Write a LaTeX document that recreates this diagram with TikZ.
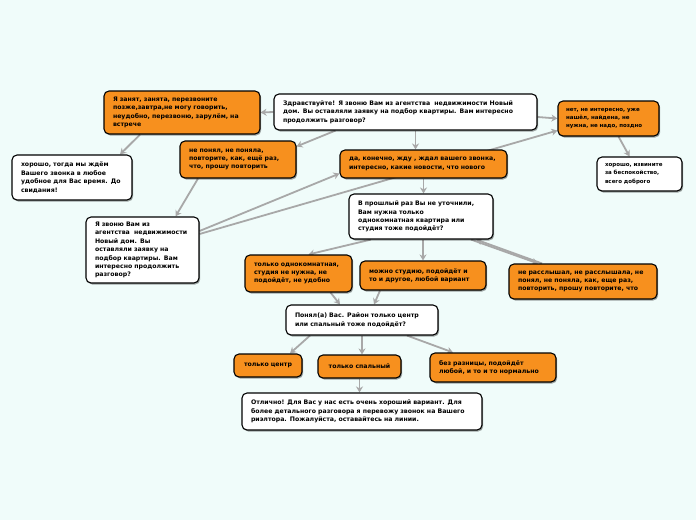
\documentclass[tikz,border=0pt]{standalone}
\usepackage{fontspec}
\setmainfont{DejaVu Sans}
\usetikzlibrary{arrows.meta,shadows,backgrounds}
\definecolor{bgcol}{RGB}{240,252,250}
\definecolor{orng}{HTML}{F7901E}
\definecolor{arrcol}{HTML}{A8A8A8}
\tikzset{
  box/.style={draw=black, line width=1.1pt, rounded corners=5pt, align=left,
    font=\bfseries\fontsize{6.2}{8.4}\selectfont, inner xsep=9pt, inner ysep=0pt,
    drop shadow={shadow xshift=1.2pt, shadow yshift=-1.5pt, opacity=0.35, fill=black}},
  small/.style={font=\bfseries\fontsize{5.5}{8.2}\selectfont, inner xsep=8pt},
  wbox/.style={box, fill=white},
  obox/.style={box, fill=orng},
  arr/.style={draw=arrcol, line width=1.8pt, -{Stealth[length=6pt,width=7pt]}}
}
\begin{document}
\begin{tikzpicture}[x=1pt,y=-1pt]
\useasboundingbox (0,0) rectangle (696,520);

\node[wbox, text width=245, minimum height=36] (main) at (405.5,112)
  {Здравствуйте! Я звоню Вам из агентства~ недвижимости Новый\\дом. Вы оставляли заявку на подбор квартиры. Вам интересно\\продолжить разговор?};
\node[obox, text width=138, minimum height=43] (busy) at (182,112.5)
  {Я занят, занята, перезвоните\\позже,завтра,не могу говорить,\\неудобно, перезвоню, зарулём, на\\встрече};
\node[obox, small, text width=85, minimum height=35] (net) at (608.5,118.5)
  {нет, не интересно, уже\\нашёл, найдена, не\\нужна, не надо, поздно};
\node[wbox, small, text width=69, minimum height=34] (izv) at (639.5,174)
  {хорошо, извините\\за беспокойство,\\всего доброго};
\node[wbox, text width=102, minimum height=45] (tog) at (72,177.5)
  {хорошо, тогда мы ждём\\Вашего звонка в любое\\удобное для Вас время. До\\свидания!};
\node[obox, text width=98, minimum height=37] (nep) at (238,159.5)
  {не понял, не поняла,\\повторите, как, ещё раз,\\что, прошу повторить};
\node[obox, text width=149, minimum height=28] (da) at (423.5,164)
  {да, конечно, жду , ждал вашего звонка,\\интересно, какие новости, что нового};
\node[wbox, text width=95, minimum height=66] (zvon) at (142.5,250)
  {Я звоню Вам из\\агентства~ недвижимости\\Новый дом. Вы\\оставляли заявку на\\подбор квартиры. Вам\\интересно продолжить\\разговор?};
\node[wbox, text width=126, minimum height=45] (pro) at (421,216.5)
  {В прошлый раз Вы не уточнили,\\Вам нужна только\\однокомнатная квартира или\\студия тоже подойдёт?};
\node[obox, text width=89, minimum height=37] (odn) at (298.5,273.5)
  {только однокомнатная,\\студия не нужна, не\\подойдёт, не удобно};
\node[obox, text width=108, minimum height=29] (mozh) at (423,275.5)
  {можно студию, подойдёт и\\то и другое, любой вариант};
\node[obox, text width=130, minimum height=35] (ras) at (583,281.5)
  {не расслышал, не расслышала, не\\понял, не поняла, как, еще раз,\\повторить, прошу повторите, что};
\node[wbox, text width=134, minimum height=30] (pon) at (362,320)
  {Понял(а) Вас. Район только центр\\или спальный тоже подойдёт?};
\node[obox, text width=50, minimum height=23, align=center] (cent) at (268,365.5)
  {только центр};
\node[obox, text width=65, minimum height=23, align=center] (spal) at (359.5,366.5)
  {только спальный};
\node[obox, text width=108, minimum height=29] (bez) at (493,367.5)
  {без разницы, подойдёт\\любой, и то и то нормально};
\node[wbox, text width=222, minimum height=37] (otl) at (362,411.5)
  {Отлично! Для Вас у нас есть очень хороший вариант. Для\\более детального разговора я перевожу звонок на Вашего\\риэлтора. Пожалуйста, оставайтесь на линии.};

\begin{scope}[on background layer]
\fill[bgcol] (0,0) rectangle (696,520);
\draw[arr] (main.west) -- (busy.east);
\draw[arr] ([yshift=-5pt]main.east) -- (net.west);
\draw[arr] ([yshift=16pt]zvon.east) -- ([yshift=-12pt]net.west);
\draw[arr] ([yshift=19pt]zvon.east) -- ([yshift=5pt]da.south west);
\draw[arr] ([xshift=-70pt]main.south) -- ([yshift=-6pt]nep.north east);
\draw[arr] ([xshift=10pt]main.south) -- ([xshift=10pt]main.south |- da.north);
\draw[arr] ([xshift=-42pt]busy.south) -- ([xshift=48pt]tog.north);
\draw[arr] ([xshift=10pt]net.south) -- ([xshift=-10pt]izv.north);
\draw[arr] ([xshift=-40pt]nep.south) -- ([xshift=33pt]zvon.north);
\draw[arr] (da.south) -- (da.south |- pro.north);
\draw[arr] ([xshift=-50pt]pro.south) -- ([xshift=10pt]odn.north);
\draw[arr] ([xshift=2pt]pro.south) -- ([xshift=2pt]pro.south |- mozh.north);
\draw[arr] ([xshift=50pt]pro.south) -- ([xshift=-45pt]ras.north);
\draw[arr] ([xshift=-41pt]ras.north) -- ([xshift=55pt]pro.south);
\draw[arr] ([xshift=32pt]odn.south) -- ([xshift=-22pt]pon.north);
\draw[arr] ([xshift=-43pt]mozh.south) -- ([xshift=12pt]pon.north);
\draw[arr] ([xshift=-52pt]pon.south) -- ([xshift=22pt]cent.north);
\draw[arr] (pon.south) -- (pon.south |- spal.north);
\draw[arr] ([xshift=45pt]pon.south) -- ([xshift=-40pt]bez.north);
\draw[arr] (spal.south) -- (spal.south |- otl.north);
\end{scope}
\end{tikzpicture}
\end{document}
